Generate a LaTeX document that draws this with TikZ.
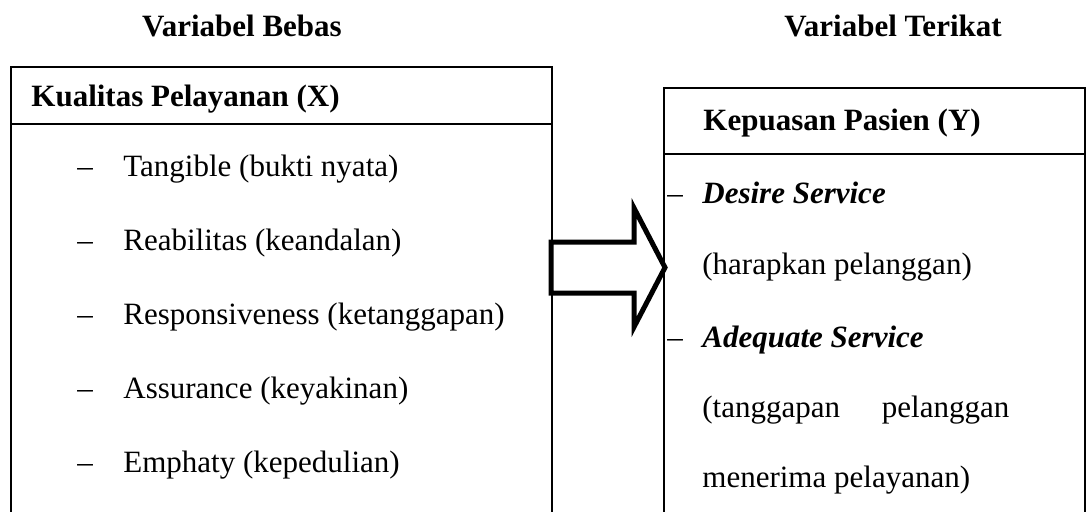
\documentclass[tikz,border=0pt]{standalone}
\usepackage{fontspec}
\setmainfont{Liberation Serif}
\usetikzlibrary{positioning}

\tikzset{
  item/.style={anchor=base west, inner sep=0pt, font=\fontsize{15.5pt}{18pt}\selectfont},
  bolditem/.style={item, font=\fontsize{15.5pt}{18pt}\selectfont\bfseries},
  boxline/.style={line width=0.7pt},
}

\begin{document}
\begin{tikzpicture}[x=0.5pt,y=-0.5pt]
  \useasboundingbox (0,0) rectangle (1086,511);

  \node[bolditem, anchor=base] (bebas) at (242,36) {Variabel Bebas};
  \node[bolditem, anchor=base] (terikat) at (893,36) {Variabel Terikat};

  % kotak X
  \draw[boxline] (11,515) -- (11,67) -- (552,67) -- (552,515);
  \draw[boxline] (11,124) -- (552,124);
  \node[bolditem] (x) at (31,106) {Kualitas Pelayanan (X)};

  \node[item] (d1) at (77,176) {\textendash};
  \node[item] (x1) at (123,176) {Tangible (bukti nyata)};
  \node[item] (d2) at (77,250) {\textendash};
  \node[item] (x2) at (123,250) {Reabilitas (keandalan)};
  \node[item] (d3) at (77,324) {\textendash};
  \node[item] (x3) at (123,324) {Responsiveness (ketanggapan)};
  \node[item] (d4) at (77,398) {\textendash};
  \node[item] (x4) at (123,398) {Assurance (keyakinan)};
  \node[item] (d5) at (77,472) {\textendash};
  \node[item] (x5) at (123,472) {Emphaty (kepedulian)};

  % kotak Y
  \draw[boxline] (664,515) -- (664,88) -- (1085,88) -- (1085,515);
  \draw[boxline] (664,154) -- (1085,154);
  \node[bolditem] (y) at (703,130) {Kepuasan Pasien (Y)};

  \node[item] (e1) at (667,203) {\textendash};
  \node[item] (y1) at (702,203) {\textbf{\textit{Desire Service}}};
  \node[item] (y2) at (702,274) {(harapkan pelanggan)};
  \node[item] (e2) at (667,347) {\textendash};
  \node[item] (y3) at (702,347) {\textbf{\textit{Adequate Service}}};
  \node[item] (y4) at (702,417) {(tanggapan\hspace{17pt} pelanggan};
  \node[item] (y5) at (702,487) {menerima pelayanan)};

  % panah
  \draw[line width=2.5pt, line join=miter] (551,242) -- (634,242) -- (634,208)
    -- (665,267.5) -- (634,327) -- (634,293) -- (551,293) -- cycle;
\end{tikzpicture}
\end{document}
